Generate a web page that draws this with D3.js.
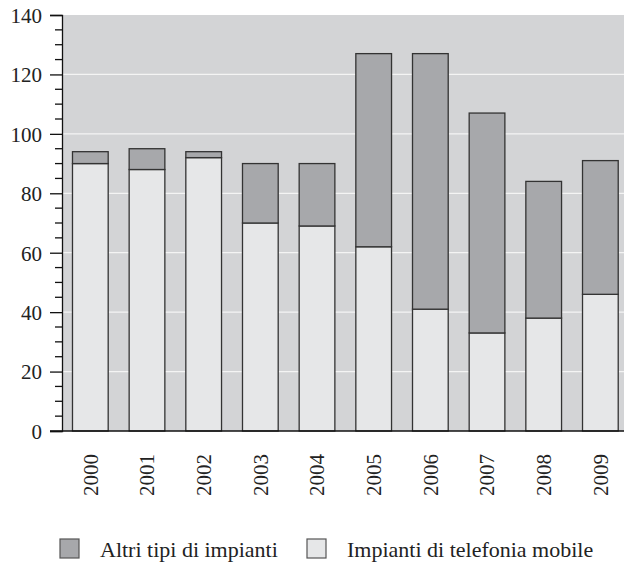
<!DOCTYPE html>
<html><head><meta charset="utf-8">
<script src="https://cdn.jsdelivr.net/npm/d3@7"></script>
<style>body{margin:0;background:#fff}svg{display:block}</style>
</head><body><svg id="c" width="624" height="564"></svg>
<script>
const years = ["2000","2001","2002","2003","2004","2005","2006","2007","2008","2009"];
const mobile = [90, 88, 92, 70, 69, 62, 41, 33, 38, 46];
const altri = [4, 7, 2, 20, 21, 65, 86, 74, 46, 45];
const yTicks = [0,20,40,60,80,100,120,140];
const seriesNames = ["Altri tipi di impianti", "Impianti di telefonia mobile"];
const colors = {mobile:"#e6e7e8", altri:"#a7a8ab", bg:"#d3d4d6"};
const FONT = "Liberation Serif, Times New Roman, serif";

const svg = d3.select("#c");
const mL = 62, mT = 15, mB = 431, mR = 624;
const y = d3.scaleLinear().domain([0,140]).range([mB, mT]);
const x = d3.scaleBand().domain(years).range([mL, mL + 566.7]).paddingInner(0.37).paddingOuter(0.185);

svg.append("rect").attr("x", mL).attr("y", mT).attr("width", mR-mL).attr("height", mB-mT).attr("fill", colors.bg);
svg.append("g").selectAll("line").data(yTicks.filter(d=>d>0&&d<140)).join("line")
  .attr("x1", mL).attr("x2", mR).attr("y1", d=>y(d)).attr("y2", d=>y(d))
  .attr("stroke","#f4f4f4").attr("stroke-width",1.2);

const data = years.map((yr,i)=>({yr, m:mobile[i], a:altri[i]}));
const g = svg.append("g");
g.selectAll("rect.m").data(data).join("rect").attr("class","m")
  .attr("x", d=>x(d.yr)).attr("width", x.bandwidth())
  .attr("y", d=>y(d.m)).attr("height", d=>y(0)-y(d.m))
  .attr("fill", colors.mobile).attr("stroke","#333").attr("stroke-width",1.3);
g.selectAll("rect.a").data(data).join("rect").attr("class","a")
  .attr("x", d=>x(d.yr)).attr("width", x.bandwidth())
  .attr("y", d=>y(d.m+d.a)).attr("height", d=>y(d.m)-y(d.m+d.a))
  .attr("fill", colors.altri).attr("stroke","#333").attr("stroke-width",1.3);

// Y axis
const yAxis = d3.axisLeft(y).tickValues(yTicks).tickSize(12).tickPadding(8);
const ya = svg.append("g").attr("transform",`translate(${mL},0)`).call(yAxis);
ya.attr("font-family", FONT);
ya.select(".domain").attr("stroke","#111").attr("stroke-width",1.3);
ya.selectAll(".tick line").attr("stroke","#111").attr("stroke-width",1.3);
ya.selectAll("text").attr("font-family",FONT).attr("font-size",21).attr("fill","#222").attr("dy","0.35em");
const minor = d3.range(0,141,5).filter(v=>v%20!==0);
svg.append("g").selectAll("line").data(minor).join("line")
  .attr("x1", mL-7).attr("x2", mL).attr("y1", d=>y(d)).attr("y2", d=>y(d))
  .attr("stroke","#111").attr("stroke-width",1.3);

// X axis
svg.append("line").attr("x1", mL-12).attr("x2", mR).attr("y1", mB).attr("y2", mB)
  .attr("stroke","#111").attr("stroke-width",1.5);
const xa = svg.append("g").attr("transform",`translate(0,${mB})`)
  .call(d3.axisBottom(x).tickSize(0).tickPadding(0));
xa.attr("font-family", FONT);
xa.select(".domain").remove();
xa.selectAll("text").attr("font-family",FONT).attr("font-size",21).attr("fill","#222")
  .attr("transform","rotate(-90)").attr("text-anchor","end")
  .attr("x",-23).attr("y",0).attr("dy","0.35em");

// Legend
const leg = [{n:seriesNames[0], c:colors.altri, x:60}, {n:seriesNames[1], c:colors.mobile, x:307}];
const lg = svg.append("g");
lg.selectAll("rect").data(leg).join("rect")
  .attr("x", d=>d.x).attr("y", 539).attr("width", 19).attr("height", 19)
  .attr("fill", d=>d.c).attr("stroke","#555").attr("stroke-width",1.2);
lg.selectAll("text").data(leg).join("text")
  .attr("x", d=>d.x+40).attr("y", 557).text(d=>d.n)
  .attr("font-family",FONT).attr("font-size",22).attr("fill","#222");
</script></body></html>
